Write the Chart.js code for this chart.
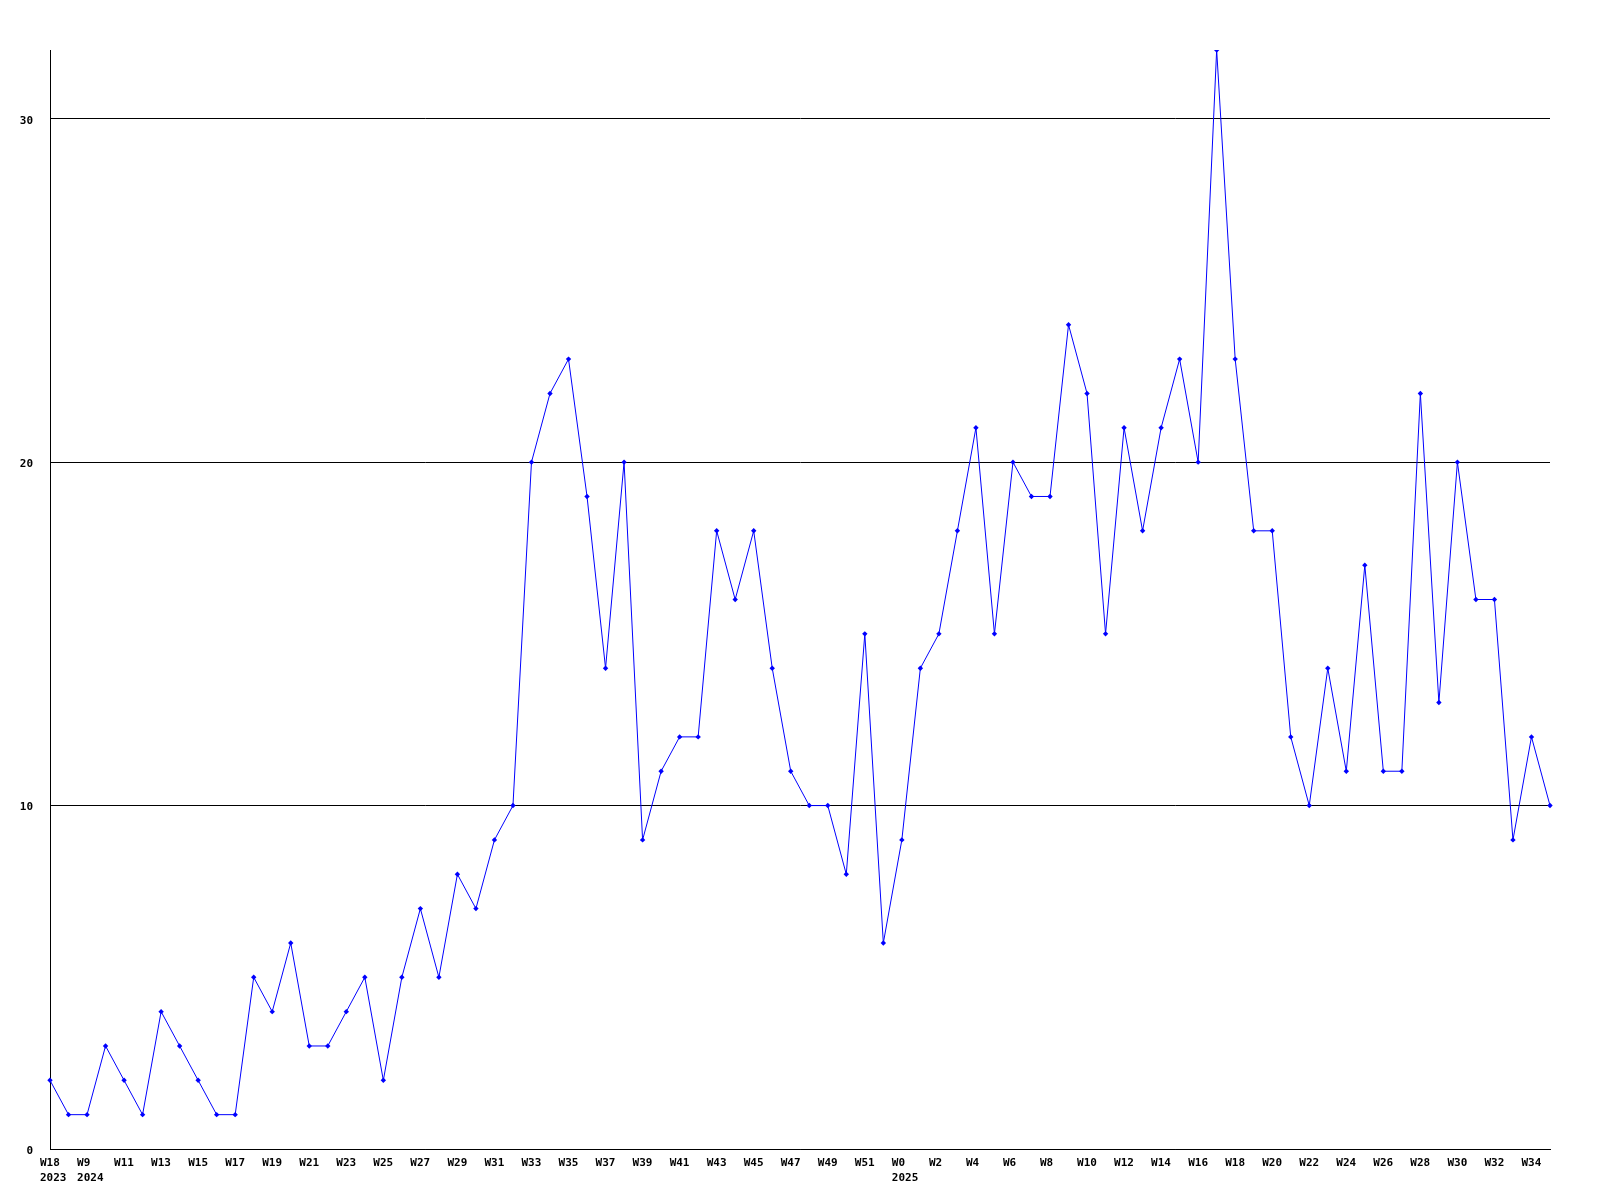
<!DOCTYPE html>
<html>
<head>
<meta charset="utf-8">
<style>
  html, body { margin: 0; padding: 0; background: #ffffff; }
  #wrap { width: 1600px; height: 1200px; position: relative; }
</style>
<script src="https://cdn.jsdelivr.net/npm/chart.js@4/dist/chart.umd.min.js"></script>
</head>
<body>
<div id="wrap"><canvas id="chart" width="1600" height="1200"></canvas></div>
<script>
// Week labels, one per point (2023 W18, then 2024 W8 .. W52, then 2025 W0 .. W35)
const weeks = [
  'W18', 'W8', 'W9', 'W10', 'W11', 'W12', 'W13', 'W14', 'W15', 'W16',
  'W17', 'W18', 'W19', 'W20', 'W21', 'W22', 'W23', 'W24', 'W25', 'W26',
  'W27', 'W28', 'W29', 'W30', 'W31', 'W32', 'W33', 'W34', 'W35', 'W36',
  'W37', 'W38', 'W39', 'W40', 'W41', 'W42', 'W43', 'W44', 'W45', 'W46',
  'W47', 'W48', 'W49', 'W50', 'W51', 'W52', 'W0', 'W1', 'W2', 'W3',
  'W4', 'W5', 'W6', 'W7', 'W8', 'W9', 'W10', 'W11', 'W12', 'W13',
  'W14', 'W15', 'W16', 'W17', 'W18', 'W19', 'W20', 'W21', 'W22', 'W23',
  'W24', 'W25', 'W26', 'W27', 'W28', 'W29', 'W30', 'W31', 'W32', 'W33',
  'W34', 'W35'
];

// Year shown under the first labelled week of each year
const yearMarks = { 0: '2023', 2: '2024', 46: '2025' };

// Weekly counts
const counts = [
  2, 1, 1, 3, 2, 1, 4, 3, 2, 1,
  1, 5, 4, 6, 3, 3, 4, 5, 2, 5,
  7, 5, 8, 7, 9, 10, 20, 22, 23, 19,
  14, 20, 9, 11, 12, 12, 18, 16, 18, 14,
  11, 10, 10, 8, 15, 6, 9, 14, 15, 18,
  21, 15, 20, 19, 19, 24, 22, 15, 21, 18,
  21, 23, 20, 32, 23, 18, 18, 12, 10, 14,
  11, 17, 11, 11, 22, 13, 20, 16, 16, 9,
  12, 10
];

const yTicks = [0, 10, 20, 30];

const tickFont = { family: '"DejaVu Sans Mono", "Liberation Mono", monospace', size: 11, weight: 'bold', lineHeight: 1.35 };

const labels = weeks.map((w, i) => yearMarks[i] ? [w, yearMarks[i]] : w);

const ctx = document.getElementById('chart').getContext('2d');
new Chart(ctx, {
  type: 'line',
  data: {
    labels: labels,
    datasets: [{
      data: counts,
      borderColor: '#0000ff',
      backgroundColor: '#0000ff',
      borderWidth: 1,
      tension: 0,
      fill: false,
      pointStyle: 'rectRot',
      pointRadius: 2.7,
      pointBorderWidth: 0,
      pointBackgroundColor: '#0000ff'
    }]
  },
  options: {
    responsive: false,
    animation: false,
    devicePixelRatio: 1,
    layout: { padding: { left: 0, right: 50, top: 50, bottom: 0 } },
    plugins: { legend: { display: false }, tooltip: { enabled: false } },
    scales: {
      x: {
        offset: false,
        grid: { display: false, drawTicks: false },
        border: { display: true, color: '#000000', width: 1 },
        afterFit: (scale) => { scale.height = 51; },
        ticks: {
          autoSkip: false,
          maxRotation: 0,
          minRotation: 0,
          align: 'start',
          labelOffset: -10,
          padding: 7,
          color: '#000000',
          font: tickFont,
          callback: function(value, index) {
            return index % 2 === 0 ? this.getLabelForValue(value) : '';
          }
        }
      },
      y: {
        min: 0,
        max: 32,
        afterFit: (scale) => { scale.width = 50; },
        afterBuildTicks: (scale) => {
          scale.ticks = yTicks.map(v => ({ value: v }));
        },
        grid: { color: '#000000', lineWidth: 1, drawTicks: false },
        border: { display: true, color: '#000000', width: 1 },
        ticks: {
          padding: 17,
          labelOffset: 2,
          color: '#000000',
          font: tickFont
        }
      }
    }
  }
});
</script>
</body>
</html>
